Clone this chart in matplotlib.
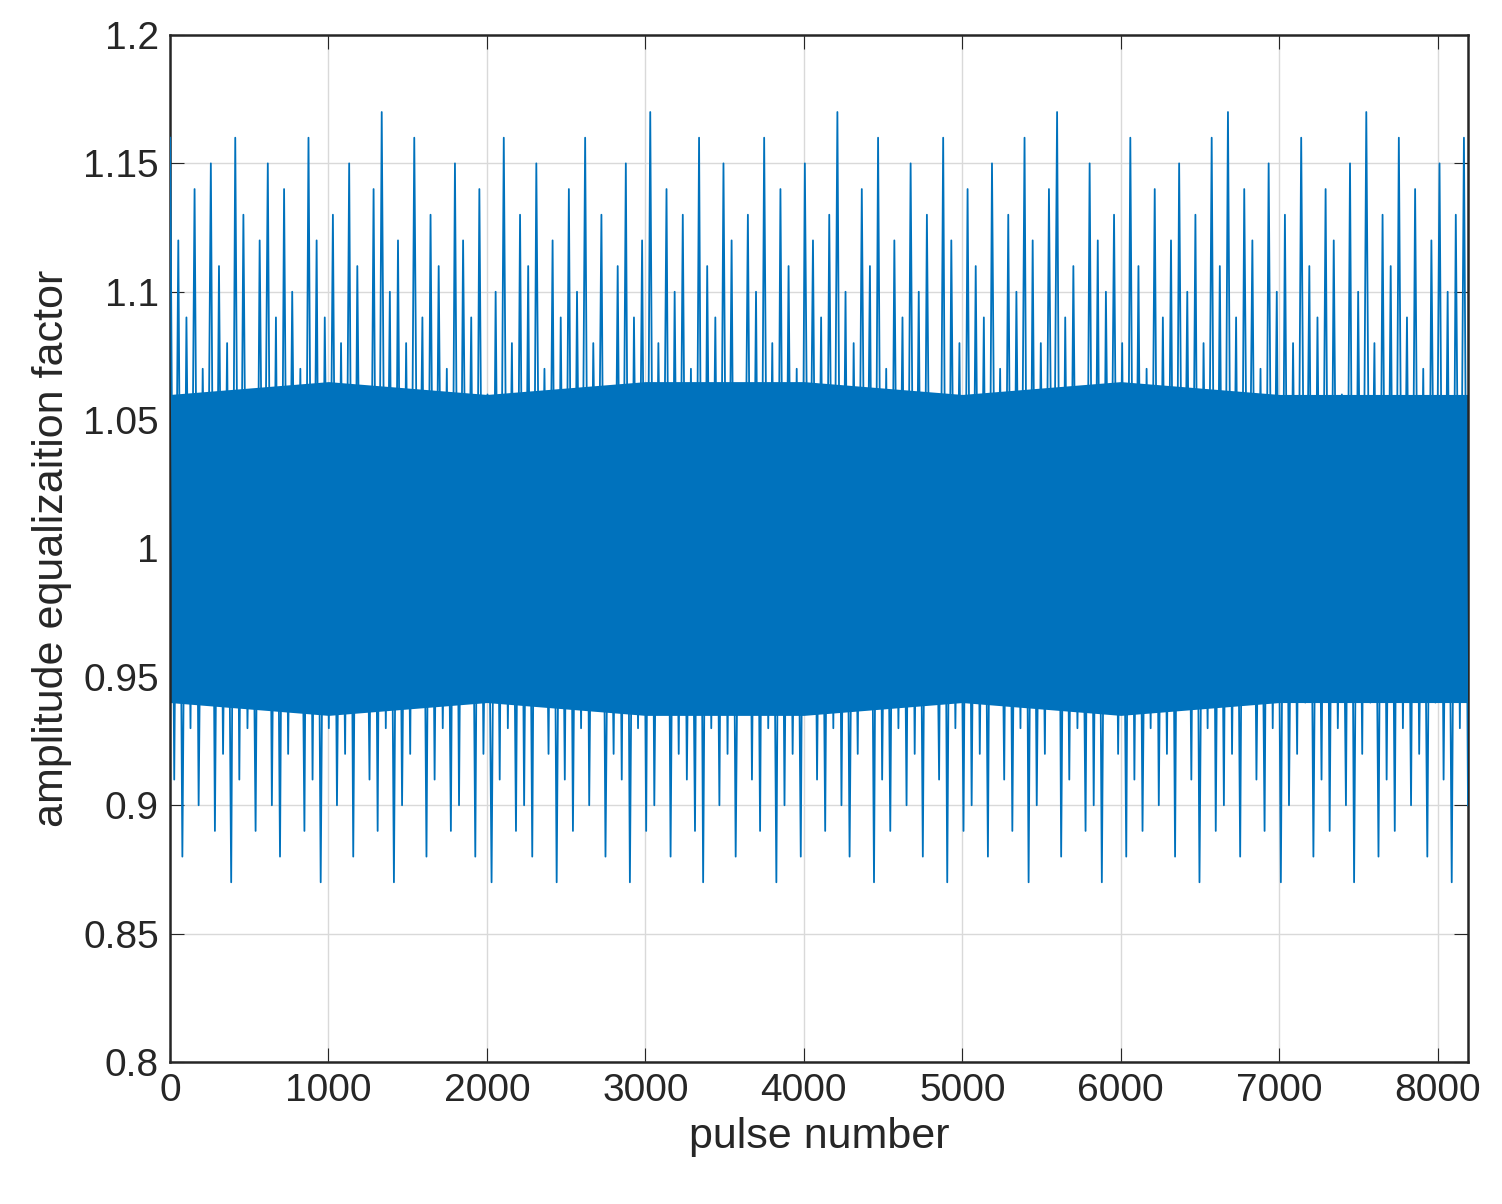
import matplotlib
matplotlib.use("Agg")
import matplotlib.pyplot as plt
import numpy as np

plt.rcParams['font.family'] = ['Liberation Sans', 'DejaVu Sans']

# Peak values (alternating crest / trough)
highs = [1.16,1.12,1.09,1.14,1.07,1.15,1.11,1.08,1.16,1.13,1.06,1.12,1.15,1.09,1.14,1.10,1.07,1.16,1.12,1.09,
         1.13,1.08,1.15,1.11,1.06,1.14,1.17,1.10,1.12,1.08,1.16,1.09,1.13,1.11,1.07,1.15,1.12,1.09,1.14,1.06,
         1.10,1.16,1.08,1.13,1.11,1.15,1.07,1.12,1.09,1.14,1.10,1.16,1.08,1.13,1.06,1.11,1.15,1.09,1.12,1.17,
         1.08,1.14,1.10,1.13,1.07,1.16,1.11,1.09,1.15,1.12,1.06,1.13,1.10,1.16,1.08,1.14,1.11,1.07,1.15,1.12,
         1.09,1.13,1.17,1.10,1.08,1.14,1.11,1.16,1.07,1.12,1.09,1.15,1.10,1.13,1.06,1.16,1.12,1.08,1.14,1.11,
         1.09,1.15,1.07,1.13,1.10,1.16,1.12,1.08,1.14,1.17,1.09,1.11,1.06,1.15,1.12,1.10,1.13,1.08,1.16,1.11,
         1.07,1.14,1.09,1.12,1.15,1.10,1.13,1.08,1.16,1.11,1.17,1.09,1.14,1.12,1.07,1.15,1.10,1.13,1.08,1.16,
         1.11,1.09,1.14,1.12,1.06,1.15,1.10,1.17,1.08,1.13,1.11,1.16,1.09,1.14,1.07,1.12,1.15,1.10,1.13,1.16]
lows = [0.91,0.88,0.93,0.90,0.94,0.89,0.92,0.87,0.91,0.93,0.89,0.95,0.90,0.88,0.92,0.94,0.89,0.91,0.87,0.93,
        0.90,0.92,0.88,0.94,0.91,0.89,0.93,0.87,0.90,0.92,0.95,0.88,0.91,0.93,0.89,0.90,0.94,0.88,0.92,0.87,
        0.91,0.93,0.89,0.90,0.88,0.94,0.92,0.87,0.91,0.89,0.93,0.90,0.95,0.88,0.92,0.91,0.87,0.93,0.89,0.90,
        0.94,0.88,0.92,0.91,0.89,0.87,0.93,0.90,0.92,0.88,0.94,0.91,0.89,0.93,0.87,0.90,0.92,0.88,0.95,0.91,
        0.89,0.93,0.90,0.88,0.92,0.94,0.87,0.91,0.89,0.93,0.90,0.92,0.88,0.94,0.91,0.87,0.93,0.89,0.90,0.92,
        0.88,0.94,0.91,0.89,0.93,0.87,0.90,0.92,0.95,0.88,0.91,0.93,0.89,0.90,0.87,0.94,0.92,0.88,0.91,0.89,
        0.93,0.90,0.92,0.88,0.94,0.91,0.87,0.93,0.89,0.90,0.92,0.88,0.95,0.91,0.89,0.93,0.87,0.90,0.92,0.94,
        0.88,0.91,0.89,0.93,0.90,0.87,0.92,0.94,0.88,0.91,0.89,0.93,0.90,0.92,0.88,0.94,0.91,0.87,0.93,0.90]
# Dense core band edges read at segment positions
band_x = [0, 1000, 2000, 3000, 4000, 5000, 6000, 7000, 8192]
band_hi = [1.06, 1.065, 1.06, 1.065, 1.065, 1.06, 1.065, 1.06, 1.06]
band_lo = [0.94, 0.935, 0.94, 0.935, 0.935, 0.94, 0.935, 0.94, 0.94]

n_pulses = 8192
vals = []
for h, l in zip(highs, lows):
    vals += [h, l]
x = np.linspace(1, n_pulses, len(vals))

col = '#0072BD'
fig = plt.figure(figsize=(15.02, 12.04), dpi=100)
ax = fig.add_axes([170/1502, 1 - 1062/1204, (1468-170)/1502, (1062-35)/1204])
ax.fill_between(band_x, band_lo, band_hi, color=col, lw=0, zorder=2)
ax.plot(x, vals, color=col, lw=1.3, zorder=3)
ax.set_xlim(0, n_pulses)
ax.set_ylim(0.8, 1.2)
ax.set_xticks(range(0, 8001, 1000))
ax.set_yticks([0.8, 0.85, 0.9, 0.95, 1.0, 1.05, 1.1, 1.15, 1.2])
ax.set_yticklabels(['0.8', '0.85', '0.9', '0.95', '1', '1.05', '1.1', '1.15', '1.2'])
ax.grid(True, color='#d9d9d9', lw=1, zorder=0)
ax.set_axisbelow(True)
ax.tick_params(labelsize=28, direction='in', length=10, top=True, right=True,
               colors='#262626', pad=8)
for s in ax.spines.values():
    s.set_linewidth(1.8)
    s.set_color('#262626')
ax.set_xlabel('pulse number', fontsize=31, color='#262626', labelpad=6)
ax.set_ylabel('amplitude equalizaition factor', fontsize=31, color='#262626', labelpad=8)
fig.savefig('out.png', dpi=100)
